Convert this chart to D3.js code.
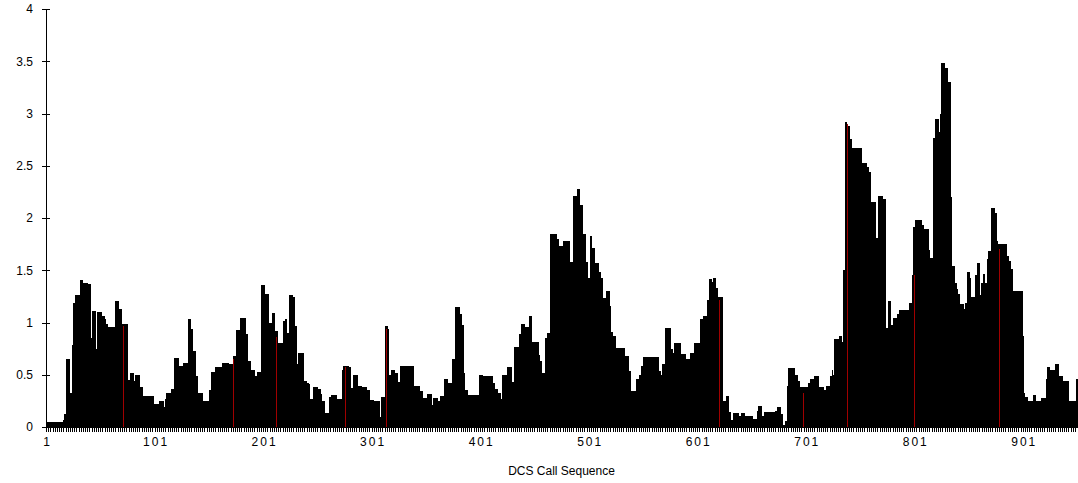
<!DOCTYPE html>
<html>
<head>
<meta charset="utf-8">
<script src="https://cdn.jsdelivr.net/npm/d3@7"></script>
<style>
body { margin: 0; background: #fff; }
svg { display: block; font-family: "Liberation Sans", Arial, sans-serif; }
</style>
</head>
<body>
<svg width="1078" height="483"></svg>
<script>
// one value per DCS call, 1..950
var values = [
0.05,0.05,0.05,0.05,0.05,0.05,0.05,0.05,0.05,0.05,
0.05,0.05,0.05,0.05,0.05,0.05,0.07,0.12,0.65,0.65,
0.65,0.65,0.33,0.33,0.78,1.19,1.19,1.26,1.26,1.26,
1.26,1.41,1.41,1.41,1.38,1.38,1.38,1.38,1.37,1.37,
1.37,0.85,1.11,1.11,1.11,1.11,0.75,1.10,1.10,1.10,
1.10,1.06,1.06,1.06,1.03,0.99,0.99,0.96,0.96,0.96,
0.96,0.96,0.96,0.96,1.21,1.21,1.21,1.13,1.13,1.13,
0.99,0.99,0.99,0.99,0.99,0.33,0.45,0.52,0.52,0.52,
0.52,0.44,0.50,0.50,0.50,0.50,0.38,0.38,0.38,0.30,
0.30,0.30,0.30,0.30,0.30,0.30,0.30,0.30,0.30,0.22,
0.22,0.22,0.22,0.22,0.25,0.25,0.25,0.25,0.19,0.19,
0.27,0.33,0.33,0.33,0.33,0.36,0.36,0.36,0.66,0.66,
0.66,0.66,0.58,0.58,0.58,0.58,0.61,0.61,0.61,0.61,
0.61,1.03,1.03,0.94,0.94,0.73,0.73,0.73,0.49,0.49,
0.33,0.33,0.33,0.33,0.25,0.25,0.25,0.25,0.25,0.25,
0.35,0.35,0.53,0.53,0.53,0.53,0.57,0.57,0.57,0.57,
0.57,0.57,0.61,0.61,0.61,0.61,0.61,0.61,0.55,0.60,
0.60,0.60,0.68,0.68,0.68,0.93,0.93,0.93,0.93,1.04,
1.04,1.04,1.04,1.04,0.89,0.89,0.63,0.63,0.55,0.55,
0.55,0.55,0.49,0.49,0.53,0.53,0.53,0.53,1.36,1.36,
1.36,1.27,1.27,1.27,1.27,1.00,1.00,1.00,1.09,1.09,
1.09,0.92,0.92,0.80,0.80,0.80,0.80,0.80,1.01,1.01,
1.03,1.03,0.90,0.90,1.26,1.26,1.26,1.24,1.24,0.97,
0.97,0.60,0.71,0.71,0.71,0.71,0.71,0.44,0.44,0.44,
0.42,0.42,0.41,0.27,0.27,0.27,0.38,0.38,0.38,0.38,
0.36,0.36,0.36,0.32,0.25,0.25,0.25,0.13,0.13,0.13,
0.13,0.29,0.29,0.31,0.31,0.31,0.31,0.31,0.27,0.27,
0.27,0.27,0.27,0.55,0.58,0.58,0.58,0.58,0.58,0.57,
0.57,0.37,0.37,0.50,0.50,0.50,0.50,0.39,0.39,0.39,
0.39,0.38,0.38,0.38,0.38,0.35,0.35,0.35,0.26,0.26,
0.26,0.26,0.25,0.25,0.25,0.25,0.25,0.10,0.10,0.29,
0.29,0.29,0.97,0.97,0.97,0.94,0.50,0.50,0.55,0.55,
0.55,0.52,0.52,0.52,0.43,0.43,0.58,0.58,0.58,0.58,
0.58,0.58,0.58,0.58,0.58,0.58,0.58,0.58,0.58,0.39,
0.39,0.39,0.39,0.39,0.34,0.34,0.34,0.28,0.28,0.28,
0.28,0.32,0.32,0.32,0.32,0.21,0.21,0.28,0.28,0.28,
0.28,0.25,0.25,0.30,0.30,0.30,0.30,0.46,0.46,0.46,
0.42,0.42,0.42,0.42,0.65,0.65,0.65,1.15,1.15,1.15,
1.15,1.08,1.08,0.98,0.98,0.52,0.35,0.35,0.31,0.31,
0.31,0.31,0.31,0.31,0.31,0.31,0.31,0.31,0.31,0.50,
0.50,0.50,0.49,0.49,0.49,0.49,0.49,0.49,0.49,0.49,
0.49,0.42,0.42,0.36,0.36,0.36,0.33,0.33,0.33,0.27,
0.50,0.50,0.50,0.50,0.50,0.57,0.57,0.57,0.57,0.43,
0.43,0.77,0.77,0.77,0.77,0.77,0.89,0.89,0.99,0.99,
0.99,0.96,0.96,0.96,0.96,1.06,1.06,0.81,0.81,0.81,
0.81,0.81,0.81,0.81,0.69,0.63,0.63,0.52,0.52,0.52,
0.85,0.85,0.90,0.90,1.85,1.85,1.85,1.85,1.85,1.85,
1.80,1.80,1.70,1.73,1.73,1.73,1.78,1.78,1.78,1.78,
1.78,1.78,1.58,1.58,1.58,1.58,2.21,2.21,2.21,2.28,
2.28,2.28,2.12,2.12,1.85,1.85,1.85,1.58,1.58,1.43,
1.43,1.83,1.83,1.71,1.71,1.57,1.57,1.57,1.57,1.48,
1.48,1.43,1.43,1.23,1.23,1.23,1.30,1.30,1.30,1.16,
0.91,0.91,0.87,0.87,0.87,0.76,0.76,0.76,0.76,0.76,
0.76,0.76,0.76,0.68,0.68,0.68,0.68,0.54,0.54,0.34,
0.34,0.34,0.34,0.34,0.46,0.46,0.50,0.50,0.58,0.58,
0.67,0.67,0.67,0.67,0.67,0.67,0.67,0.67,0.67,0.67,
0.67,0.67,0.67,0.67,0.54,0.54,0.50,0.50,0.60,0.60,
0.95,0.95,0.95,0.95,0.95,0.75,0.75,0.71,0.71,0.80,
0.80,0.80,0.80,0.80,0.80,0.70,0.70,0.70,0.70,0.65,
0.65,0.65,0.65,0.71,0.71,0.71,0.71,0.80,0.80,0.80,
0.80,0.80,0.80,1.03,1.03,1.06,1.06,1.06,1.06,1.22,
1.22,1.42,1.42,1.39,1.39,1.43,1.43,1.33,1.33,1.24,
1.24,1.24,1.24,0.25,0.25,0.25,0.25,0.30,0.30,0.14,
0.14,0.07,0.07,0.13,0.13,0.13,0.13,0.13,0.11,0.11,
0.13,0.13,0.13,0.13,0.11,0.11,0.11,0.11,0.11,0.11,
0.11,0.08,0.08,0.08,0.08,0.15,0.20,0.20,0.20,0.11,
0.11,0.11,0.14,0.14,0.14,0.14,0.14,0.14,0.14,0.14,
0.14,0.11,0.15,0.15,0.19,0.19,0.19,0.12,0.12,0.02,
0.02,0.06,0.02,0.39,0.56,0.56,0.56,0.56,0.56,0.56,
0.50,0.50,0.44,0.44,0.38,0.38,0.38,0.38,0.38,0.38,
0.38,0.38,0.42,0.42,0.46,0.46,0.46,0.46,0.49,0.49,
0.49,0.49,0.38,0.38,0.38,0.38,0.35,0.35,0.31,0.39,
0.39,0.39,0.49,0.49,0.55,0.50,0.84,0.84,0.84,0.84,
0.84,0.87,0.87,0.81,1.50,1.50,2.92,2.92,2.88,2.88,
2.76,2.76,2.67,2.67,2.67,2.67,2.67,2.67,2.67,2.67,
2.67,2.45,2.53,2.53,2.53,2.53,2.49,2.49,2.44,2.44,
2.15,2.15,2.15,2.15,1.81,1.81,1.81,2.21,2.21,2.21,
2.21,2.18,2.18,2.18,0.95,0.95,1.21,1.21,0.98,0.98,
1.04,1.04,1.04,1.04,1.08,1.08,1.12,1.12,1.12,1.12,
1.12,1.12,1.12,1.12,1.12,1.19,1.19,1.19,1.45,1.91,
1.91,1.98,1.98,1.98,1.98,1.98,1.98,1.93,1.93,1.89,
1.89,1.89,1.89,1.69,1.51,1.62,1.62,2.77,2.77,2.95,
2.95,2.95,2.82,2.82,3.00,3.48,3.48,3.48,3.44,3.44,
3.44,3.30,3.30,2.20,1.54,1.54,1.54,1.38,1.38,1.32,
1.27,1.27,1.18,1.18,1.18,1.13,1.13,1.19,1.19,1.48,
1.48,1.43,1.24,1.24,1.24,1.24,1.45,1.45,1.57,1.57,
1.26,1.26,1.38,1.46,1.46,1.38,1.38,1.61,1.68,1.68,
1.68,2.10,2.10,2.10,2.05,2.05,1.78,1.75,1.75,1.75,
1.75,1.75,1.75,1.75,1.75,1.64,1.64,1.59,1.59,1.51,
1.51,1.30,1.30,1.30,1.30,1.30,1.30,1.30,1.30,1.30,
0.87,0.33,0.29,0.29,0.25,0.25,0.25,0.25,0.25,0.31,
0.31,0.31,0.25,0.25,0.25,0.25,0.25,0.28,0.28,0.28,
0.28,0.46,0.57,0.57,0.57,0.55,0.55,0.55,0.55,0.55,
0.60,0.60,0.60,0.49,0.49,0.49,0.49,0.44,0.44,0.44,
0.44,0.44,0.25,0.25,0.25,0.25,0.25,0.25,0.25,0.46
]

// the calls drawn in dark red
var markedCalls = [71, 173, 212, 276, 314, 621, 698, 739, 800, 879]
var markedValues = [0.97, 0.65, 0.86, 0.57, 0.94, 1.22, 0.33, 2.90, 1.45, 1.70]

var yTicks = [0, 0.5, 1, 1.5, 2, 2.5, 3, 3.5, 4]
var xLabelCalls = [1, 101, 201, 301, 401, 501, 601, 701, 801, 901]

var svg = d3.select('svg')
var width = 1078, height = 483
var margin = ({top: 9, right: 1, bottom: 56, left: 46})

var calls = d3.range(1, values.length + 1)

var x = d3.scaleBand()
    .domain(calls)
    .range([margin.left, width - margin.right])
    .padding(0)

var y = d3.scaleLinear()
    .domain([0, 4])
    .range([height - margin.bottom, margin.top])

svg.append('rect').attr('width', width).attr('height', height).attr('fill', '#fff')

svg.append('g')
    .selectAll('rect')
    .data(values)
    .enter().append('rect')
        .attr('x', (d, i) => x(i + 1))
        .attr('y', d => y(d))
        .attr('width', x.bandwidth() + 0.5)
        .attr('height', d => y(0) - y(d))
        .attr('fill', '#000')
        .attr('shape-rendering', 'crispEdges')

svg.append('g')
    .selectAll('rect')
    .data(markedCalls)
    .enter().append('rect')
        .attr('x', d => Math.round(x(d) + x.bandwidth() / 2))
        .attr('y', (d, i) => y(markedValues[i]))
        .attr('width', 1)
        .attr('height', (d, i) => y(0) - y(markedValues[i]))
        .attr('fill', '#a00000')
        .attr('shape-rendering', 'crispEdges')

var yAxis = g => g
    .attr('transform', `translate(${margin.left},0)`)
    .call(d3.axisLeft(y).tickValues(yTicks).tickFormat(d => String(d))
        .tickSize(4).tickSizeOuter(0).tickPadding(9))
    .call(g => g.selectAll('.tick line').attr('x1', 4))
    .call(g => g.selectAll('.tick text').attr('font-size', '12px').attr('fill', '#000'))

var xAxis = g => g
    .attr('transform', `translate(0,${y(0)})`)
    .call(d3.axisBottom(x)
        .tickValues(calls.filter(c => c % 2 == 1))
        .tickFormat(c => xLabelCalls.includes(c) ? c : '')
        .tickSize(5).tickSizeOuter(0).tickPadding(5))
    .call(g => g.selectAll('.tick text')
        .attr('font-size', '12px')
        .attr('letter-spacing', '2px')
        .attr('dx', '1px')
        .attr('fill', '#000'))

svg.append('g').call(xAxis)
svg.append('g').call(yAxis)
svg.selectAll('.domain, .tick line').attr('stroke', '#000').attr('shape-rendering', 'crispEdges')
svg.selectAll('g').attr('font-family', '"Liberation Sans", Arial, sans-serif')

svg.append('text')
    .attr('x', (margin.left + width - margin.right) / 2)
    .attr('y', 475)
    .attr('text-anchor', 'middle')
    .attr('font-size', '12px')
    .attr('fill', '#000')
    .text('DCS Call Sequence')
</script>
</body>
</html>
